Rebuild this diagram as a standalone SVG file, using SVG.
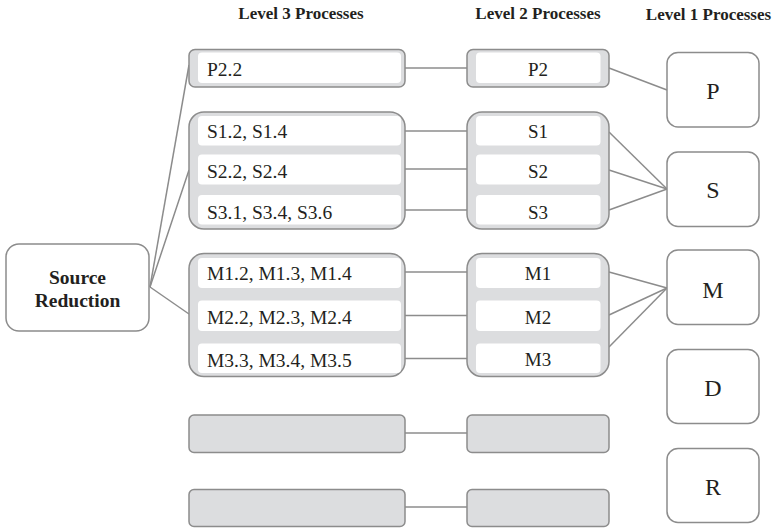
<svg xmlns="http://www.w3.org/2000/svg" width="775" height="529" viewBox="0 0 775 529">
<style>
.grp{fill:#dcdddf;stroke:#8c8c8c;stroke-width:1.5}
.row{fill:#ffffff;stroke:none}
.box{fill:#ffffff;stroke:#8c8c8c;stroke-width:1.5}
.ln{stroke:#8c8c8c;stroke-width:1.5;fill:none}
text{font-family:'Liberation Serif','Times New Roman',Times,'DejaVu Serif',serif;fill:#231f20}
.hd{font-size:17px;font-weight:bold;text-anchor:middle}
.t3{font-size:19.5px}
.t2{font-size:19px;text-anchor:middle}
.t1{font-size:24px;text-anchor:middle}
.src{font-size:19.5px;font-weight:bold;text-anchor:middle}
</style>
<rect width="775" height="529" fill="#ffffff"/>
<g id="headers">
<text class="hd" x="301" y="18.5">Level 3 Processes</text>
<text class="hd" x="538" y="18.5">Level 2 Processes</text>
<text class="hd" x="708.5" y="19.5">Level 1 Processes</text>
</g>
<g id="connectors">
<line class="ln" x1="150" y1="287" x2="189" y2="65"/>
<line class="ln" x1="150" y1="287" x2="189" y2="170"/>
<line class="ln" x1="150" y1="287" x2="189" y2="314"/>
<line class="ln" x1="405" y1="68" x2="467" y2="68"/>
<line class="ln" x1="405" y1="131" x2="467" y2="131"/>
<line class="ln" x1="405" y1="169" x2="467" y2="169"/>
<line class="ln" x1="405" y1="210" x2="467" y2="210"/>
<line class="ln" x1="405" y1="272" x2="467" y2="272"/>
<line class="ln" x1="405" y1="315.5" x2="467" y2="315.5"/>
<line class="ln" x1="405" y1="358.5" x2="467" y2="358.5"/>
<line class="ln" x1="405" y1="433" x2="467" y2="433"/>
<line class="ln" x1="405" y1="507" x2="467" y2="507"/>
<line class="ln" x1="609" y1="68" x2="667" y2="90"/>
<line class="ln" x1="609" y1="132" x2="667" y2="189"/>
<line class="ln" x1="609" y1="170" x2="667" y2="189"/>
<line class="ln" x1="609" y1="210" x2="667" y2="189"/>
<line class="ln" x1="609" y1="272" x2="667" y2="288"/>
<line class="ln" x1="609" y1="315" x2="667" y2="288"/>
<line class="ln" x1="609" y1="347" x2="667" y2="288"/>
</g>
<g id="source">
<rect class="box" x="6" y="244" width="143" height="87" rx="13"/>
<text class="src" x="77.5" y="283.5">Source</text>
<text class="src" x="77.5" y="306.5">Reduction</text>
</g>
<g id="l3-p">
<rect class="grp" x="189" y="49.5" width="216" height="37.5" rx="6"/>
<rect class="row" x="198" y="52.5" width="203" height="30.5" rx="4"/>
<text class="t3" x="207" y="75.5">P2.2</text>
</g>
<g id="l3-s">
<rect class="grp" x="189" y="112" width="216" height="117" rx="15"/>
<rect class="row" x="198" y="116" width="203" height="29.5" rx="4"/>
<rect class="row" x="198" y="154.5" width="203" height="30" rx="4"/>
<rect class="row" x="198" y="195" width="203" height="29.5" rx="4"/>
<text class="t3" x="207" y="138">S1.2, S1.4</text>
<text class="t3" x="207" y="178">S2.2, S2.4</text>
<text class="t3" x="207" y="218.5">S3.1, S3.4, S3.6</text>
</g>
<g id="l3-m">
<rect class="grp" x="189" y="253.5" width="216" height="123" rx="15"/>
<rect class="row" x="198" y="258" width="203" height="30" rx="4"/>
<rect class="row" x="198" y="300.5" width="203" height="30.5" rx="4"/>
<rect class="row" x="198" y="343.5" width="203" height="29.5" rx="4"/>
<text class="t3" x="207" y="279.5">M1.2, M1.3, M1.4</text>
<text class="t3" x="207" y="323.5">M2.2, M2.3, M2.4</text>
<text class="t3" x="207" y="366.5">M3.3, M3.4, M3.5</text>
</g>
<g id="l3-empty1">
<rect class="grp" x="189" y="415" width="216" height="37.5" rx="5"/>
</g>
<g id="l3-empty2">
<rect class="grp" x="189" y="489.5" width="216" height="37" rx="5"/>
</g>
<g id="l2-p">
<rect class="grp" x="467" y="49.5" width="142" height="37.5" rx="6"/>
<rect class="row" x="476" y="52.5" width="124.5" height="30.5" rx="4"/>
<text class="t2" x="538" y="75.5">P2</text>
</g>
<g id="l2-s">
<rect class="grp" x="467" y="112" width="142" height="117" rx="15"/>
<rect class="row" x="476" y="116" width="124.5" height="29.5" rx="4"/>
<rect class="row" x="476" y="154.5" width="124.5" height="30" rx="4"/>
<rect class="row" x="476" y="195" width="124.5" height="29.5" rx="4"/>
<text class="t2" x="538" y="138">S1</text>
<text class="t2" x="538" y="178">S2</text>
<text class="t2" x="538" y="218.5">S3</text>
</g>
<g id="l2-m">
<rect class="grp" x="467" y="253.5" width="142" height="123" rx="15"/>
<rect class="row" x="476" y="258" width="124.5" height="30" rx="4"/>
<rect class="row" x="476" y="300.5" width="124.5" height="30.5" rx="4"/>
<rect class="row" x="476" y="343.5" width="124.5" height="29.5" rx="4"/>
<text class="t2" x="538" y="279.5">M1</text>
<text class="t2" x="538" y="323.5">M2</text>
<text class="t2" x="538" y="365.5">M3</text>
</g>
<g id="l2-empty1">
<rect class="grp" x="467" y="415" width="142" height="37.5" rx="5"/>
</g>
<g id="l2-empty2">
<rect class="grp" x="467" y="489.5" width="142" height="37" rx="5"/>
</g>
<g id="l1-p">
<rect class="box" x="667" y="52.5" width="92" height="74.5" rx="11"/>
<text class="t1" x="713" y="99">P</text>
</g>
<g id="l1-s">
<rect class="box" x="667" y="152" width="92" height="74.5" rx="11"/>
<text class="t1" x="713" y="197.5">S</text>
</g>
<g id="l1-m">
<rect class="box" x="667" y="250" width="92" height="74.5" rx="11"/>
<text class="t1" x="713" y="298">M</text>
</g>
<g id="l1-d">
<rect class="box" x="667" y="349.5" width="92" height="74" rx="11"/>
<text class="t1" x="713" y="395.5">D</text>
</g>
<g id="l1-r">
<rect class="box" x="667" y="448.5" width="92" height="74" rx="11"/>
<text class="t1" x="713" y="494.5">R</text>
</g>
</svg>
